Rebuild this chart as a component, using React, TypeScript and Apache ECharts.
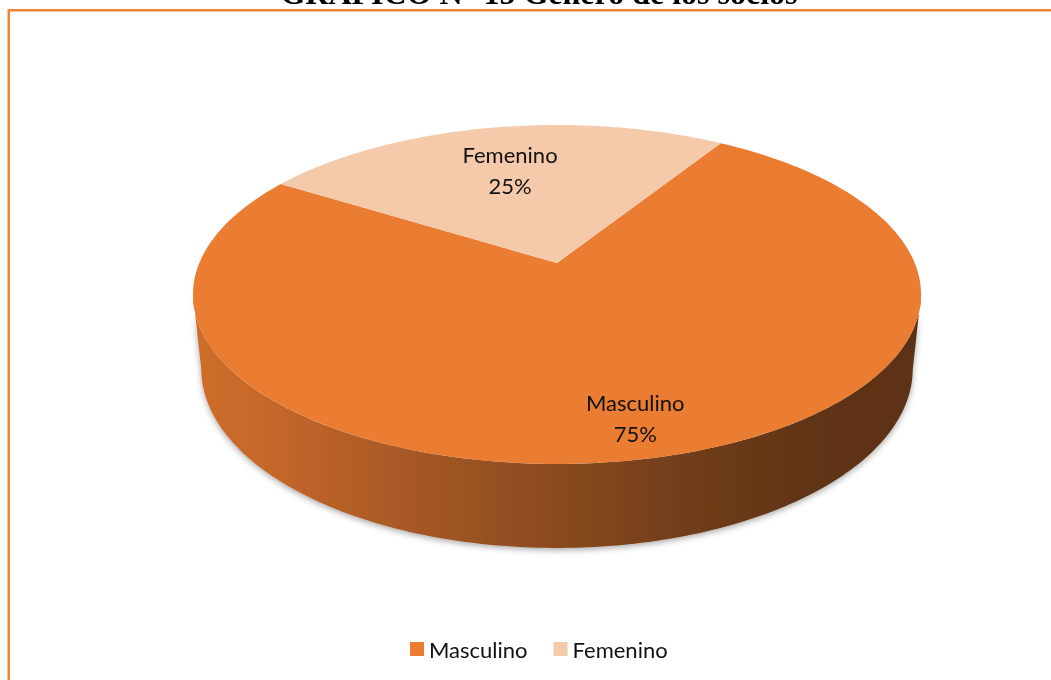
import React, { useEffect, useRef } from "react";
import * as echarts from "echarts";

// ---- data ----
const categories: string[] = ["Masculino", "Femenino"];
const values: number[] = [75, 25];
const sliceColors: string[] = ["#EA7D32", "#F5CAAA"];
const titleText = "GRÁFICO N° 15 Género de los socios";

// ---- 3D projection parameters (layout only) ----
const CX = 557;
const CY = 263;
const K = 357.7;
const SIN_A = 0.4574;
const COS_A = 0.889;
const DIST = 4.786;
const DEPTH = 0.2353;
const START_DEG = 32;
const LABEL_RHO = [0.827, 0.652];
const FONT = "Lato, 'Noto Sans', sans-serif";

function proj(theta: number, rho: number, y: number): number[] {
  const x = rho * Math.sin(theta);
  const z = -rho * Math.cos(theta);
  const yv = y * COS_A - z * SIN_A;
  const zv = y * SIN_A + z * COS_A;
  const sc = DIST / (DIST - zv);
  return [CX + K * x * sc, CY - K * yv * sc];
}

function arcPoints(a: number, b: number, rho: number, y: number): number[][] {
  const n = Math.max(2, Math.ceil((Math.abs(b - a) * 180) / Math.PI));
  const pts: number[][] = [];
  for (let i = 0; i <= n; i++) {
    pts.push(proj(a + ((b - a) * i) / n, rho, y));
  }
  return pts;
}

const sideGradient = () =>
  new echarts.graphic.LinearGradient(
    194, 0, 921, 0,
    [
      { offset: 0, color: "#cf6e2c" },
      { offset: 0.12, color: "#c2662a" },
      { offset: 0.3, color: "#a65825" },
      { offset: 0.5, color: "#8a4a1f" },
      { offset: 0.7, color: "#6e3c19" },
      { offset: 0.85, color: "#613416" },
      { offset: 1, color: "#5c3115" },
    ],
    true
  );

export default function App() {
  const ref = useRef<HTMLDivElement>(null);

  useEffect(() => {
    if (!ref.current) return;
    const chart = echarts.init(ref.current, undefined, { renderer: "svg" });
    const total = values.reduce((s, v) => s + v, 0);
    const u = COS_A / DIST;
    const silh = Math.acos(-u);

    const series = categories.map((name, i) => {
      const before = values.slice(0, i).reduce((s, v) => s + v, 0);
      return {
        type: "custom",
        name,
        coordinateSystem: "none",
        itemStyle: { color: sliceColors[i] },
        data: [values[i]],
        renderItem: (_params: any, api: any) => {
          const v = api.value(0);
          const a = (START_DEG * Math.PI) / 180 + (2 * Math.PI * before) / total;
          const b = a + (2 * Math.PI * v) / total;
          const children: any[] = [];
          // visible side walls
          for (const off of [0, 2 * Math.PI]) {
            const lo = Math.max(a, silh + off);
            const hi = Math.min(b, 2 * Math.PI - silh + off);
            if (hi > lo) {
              const topArc = arcPoints(lo, hi, 1, 0);
              const botArc = arcPoints(lo, hi, 1, -DEPTH).reverse();
              children.push({
                type: "polygon",
                z2: 1,
                shape: { points: topArc.concat(botArc) },
                style: {
                  fill: sideGradient(),
                  shadowBlur: 6,
                  shadowOffsetY: 2,
                  shadowColor: "rgba(0,0,0,0.35)",
                },
              });
            }
          }
          // top face
          const center = proj(0, 0, 0);
          children.push({
            type: "polygon",
            z2: 10,
            shape: { points: [center].concat(arcPoints(a, b, 1, 0)) },
            style: { fill: sliceColors[i] },
          });
          // label
          const mid = (a + b) / 2;
          const lp = proj(mid, LABEL_RHO[i], 0);
          children.push({
            type: "text",
            z2: 20,
            style: {
              text: name + "\n" + Math.round((v / total) * 100) + "%",
              x: lp[0],
              y: lp[1],
              align: "center",
              verticalAlign: "middle",
              fontFamily: FONT,
              fontSize: 22,
              lineHeight: 31,
              fill: "#111111",
            },
          });
          return { type: "group", children };
        },
      };
    });

    chart.setOption({
      animation: false,
      legend: {
        data: categories,
        icon: "rect",
        left: 405,
        top: 633,
        itemWidth: 14,
        itemHeight: 14,
        itemGap: 26,
        textStyle: { fontFamily: FONT, fontSize: 22, color: "#111111" },
        selectedMode: false,
      },
      graphic: [
        {
          type: "rect",
          z: -10,
          shape: { x: 8.75, y: 10.25, width: 1100, height: 720 },
          style: { fill: "none", stroke: "#EE8537", lineWidth: 2.5 },
        },
        {
          type: "text",
          style: {
            text: titleText,
            x: 539,
            y: -7,
            align: "center",
            verticalAlign: "middle",
            font: "bold 32px 'Liberation Serif', serif",
            fill: "#000000",
          },
        },
      ],
      series: series as any,
    });
    return () => chart.dispose();
  }, []);

  return (
    <div
      ref={ref}
      style={{ position: "fixed", left: 0, top: 0, width: 1051, height: 680 }}
    />
  );
}
